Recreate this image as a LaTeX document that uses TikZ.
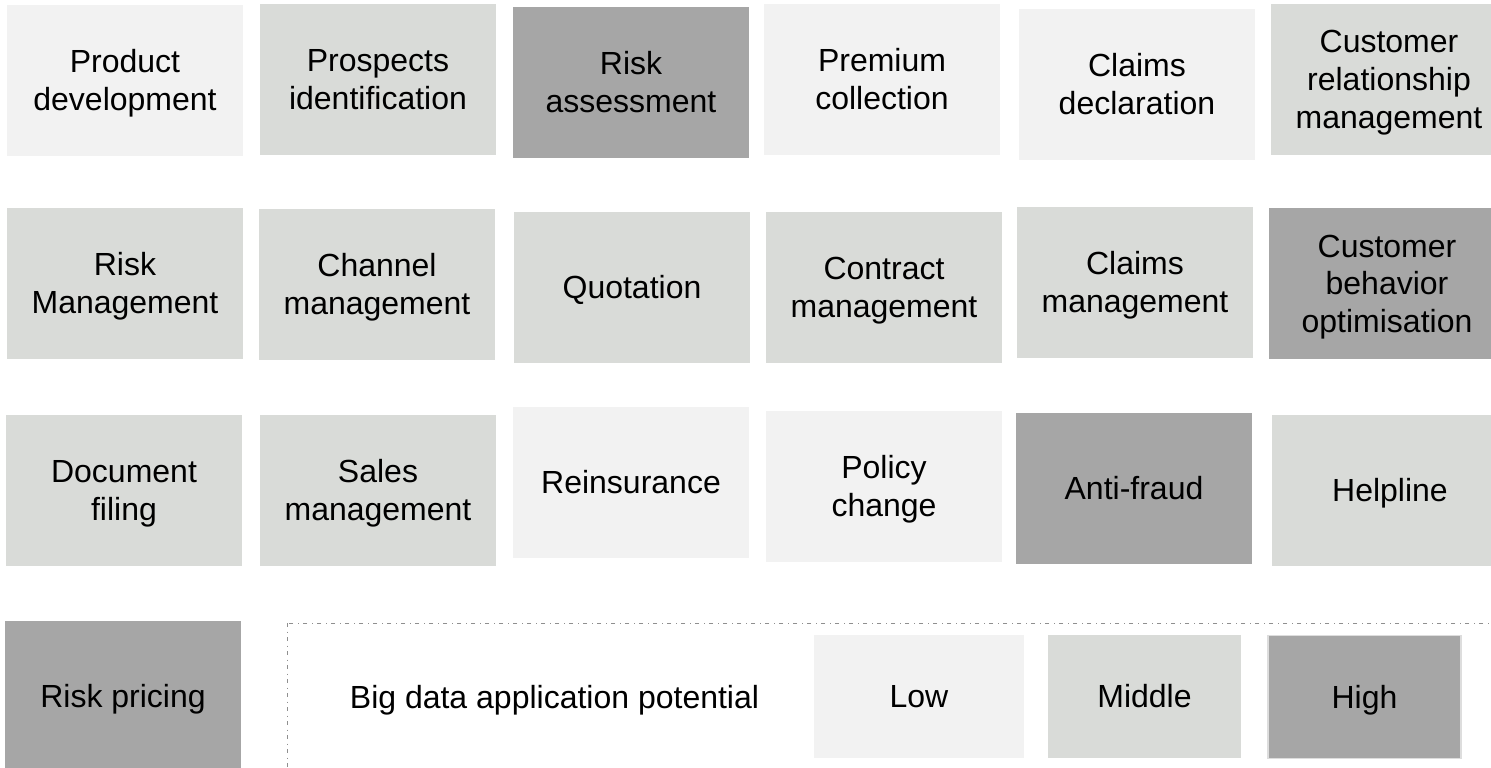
\documentclass[tikz,border=0pt]{standalone}
\usepackage{fontspec}
\setmainfont{Liberation Sans}
\definecolor{lowc}{HTML}{F2F2F2}
\definecolor{midc}{HTML}{D9DBD8}
\definecolor{highc}{HTML}{A6A6A6}
\definecolor{dashc}{HTML}{8F8F8F}
\definecolor{edgec}{HTML}{DDDDDD}
\newcommand\bst{\rule[-7.75pt]{0pt}{37.5pt}}
\begin{document}
\begin{tikzpicture}[x=1pt,y=-1pt,
  box/.style={rectangle, inner sep=0pt, minimum width=236pt, minimum height=151pt,
    align=center, font=\fontsize{32}{37.5}\selectfont, text=black},
  lvlow/.style={box, fill=lowc},
  lvmid/.style={box, fill=midc},
  lvhigh/.style={box, fill=highc},
  legbox/.style={minimum width=193pt, minimum height=123pt},
  legframe/.style={draw=dashc, line width=1pt, dash pattern=on 4pt off 4.5pt on 1pt off 4.5pt}]
\useasboundingbox (0,0) rectangle (1491,768);
\clip (0,0) rectangle (1491,768);
\fill[white] (0,0) rectangle (1491,768);
% row 1
\node[lvlow]  (pd)  at (125,80.5)  {\bst Product\\\bst development};
\node[lvmid]  (pi)  at (378,79.5)  {\bst Prospects\\\bst identification};
\node[lvhigh] (ra)  at (631,82.5)  {\bst Risk\\\bst assessment};
\node[lvlow]  (pc)  at (882,79.5)  {\bst Premium\\\bst collection};
\node[lvlow]  (cd)  at (1137,84.5) {\bst Claims\\\bst declaration};
\node[lvmid]  (crm) at (1389,79.5) {\bst Customer\\\bst relationship\\\bst management};
% row 2
\node[lvmid]  (rm)  at (125,283.5) {\bst Risk\\\bst Management};
\node[lvmid]  (cm)  at (377,284.5) {\bst Channel\\\bst management};
\node[lvmid]  (qu)  at (632,287.5) {\bst Quotation};
\node[lvmid]  (ctm) at (884,287.5) {\bst Contract\\\bst management};
\node[lvmid]  (clm) at (1135,282.5) {\bst Claims\\\bst management};
\node[lvhigh] (cbo) at (1387,283.5) {\bst Customer\\\bst behavior\\\bst optimisation};
% row 3
\node[lvmid]  (df)  at (124,490.5) {\bst Document\\\bst filing};
\node[lvmid]  (sm)  at (378,490.5) {\bst Sales\\\bst management};
\node[lvlow]  (re)  at (631,482.5) {\bst Reinsurance};
\node[lvlow]  (pch) at (884,486.5) {\bst Policy\\\bst change};
\node[lvhigh] (af)  at (1134,488.5) {\bst Anti-fraud};
\node[lvmid]  (hl)  at (1390,490.5) {\bst Helpline};
% row 4
\node[lvhigh] (rp)  at (123,696.5) {\bst Risk pricing};
\draw[legframe] (287,623) rectangle (1520,800);
\node[inner sep=0pt, font=\fontsize{32}{37.5}\selectfont] (bd) at (554.5,697) {\bst Big data application potential};
\node[lvlow, legbox, minimum width=210pt] (lo) at (919,696.5) {\bst Low};
\node[lvmid, legbox] (mi) at (1144.5,696.5) {\bst Middle};
\node[lvhigh, legbox, draw=edgec, line width=1.5pt] (hi) at (1364.5,697) {\bst High};
\end{tikzpicture}
\end{document}
